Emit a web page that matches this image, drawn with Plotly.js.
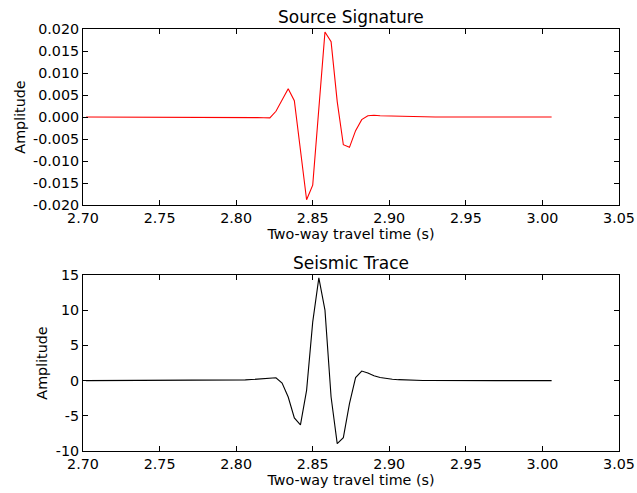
<!DOCTYPE html>
<html>
<head>
<meta charset="utf-8">
<script src="https://cdn.plot.ly/plotly-3.0.1.min.js"></script>
<style>html,body{margin:0;padding:0;background:#fff;}#chart{width:637px;height:493px;}</style>
</head>
<body>
<div id="chart"></div>
<script>
// Two-way travel time samples (s)
var times = [2.702,2.706,2.710,2.714,2.718,2.722,2.726,2.730,2.734,2.738,
             2.742,2.746,2.750,2.754,2.758,2.762,2.766,2.770,2.774,2.778,
             2.782,2.786,2.790,2.794,2.798,2.802,2.806,2.810,2.814,2.818,
             2.822,2.826,2.830,2.834,2.838,2.842,2.846,2.850,2.854,2.858,
             2.862,2.866,2.870,2.874,2.878,2.882,2.886,2.890,2.894,2.898,
             2.902,2.906,2.910,2.914,2.918,2.922,2.926,2.930,2.934,2.938,
             2.942,2.946,2.950,2.954,2.958,2.962,2.966,2.970,2.974,2.978,
             2.982,2.986,2.990,2.994,2.998,3.002,3.006];

// Source signature amplitude
var sourceAmp = [0,0,0,0,0,0,0,0,0,0,
                 0,0,0,0,0,0,0,0,0,0,
                 0,0,0,-0.00003,-0.00005,-0.00008,-0.0001,-0.00012,-0.00015,-0.00018,
                 -0.0002,0.0013,0.0040,0.0064,0.0037,-0.0076,-0.0188,-0.0155,0.0020,0.0193,
                 0.0171,0.0035,-0.0063,-0.0069,-0.0031,-0.0006,0.0003,0.0004,0.0003,0.00025,
                 0.0002,0.00015,0.0001,0.00007,0.00005,0.00003,0,0,0,0,
                 0,0,0,0,0,0,0,0,0,0,
                 0,0,0,0,0,0,0];

// Seismic trace amplitude
var traceAmp = [0,0,0,0,0,0,0,0,0,0,
                0,0,0,0,0,0,0,0,0,0.01,
                0.01,0.01,0.02,0.02,0.03,0.06,0.1,0.15,0.21,0.28,
                0.35,0.4,-0.34,-2.33,-5.3,-6.3,-1.38,8.3,14.6,10.0,
                -2.33,-8.95,-8.1,-3.27,0.43,1.36,1.08,0.7,0.45,0.3,
                0.2,0.13,0.08,0.05,0.03,0.02,0.01,0,0,0,
                0,0,0,0,0,0,0,0,0,0,
                0,0,0,0,0,0,0];

var xTickVals = [2.70,2.75,2.80,2.85,2.90,2.95,3.00,3.05];
var xTickText = ['2.70','2.75','2.80','2.85','2.90','2.95','3.00','3.05'];
var srcTickVals = [-0.020,-0.015,-0.010,-0.005,0.000,0.005,0.010,0.015,0.020];
var srcTickText = ['-0.020','-0.015','-0.010','-0.005','0.000','0.005','0.010','0.015','0.020'];
var trcTickVals = [-10,-5,0,5,10,15];
var trcTickText = ['-10','-5','0','5','10','15'];

var FONT = 'DejaVu Sans, sans-serif';

var traces = [
  {x: times, y: sourceAmp, type: 'scatter', mode: 'lines', line: {color: '#ff0000', width: 1.1}, xaxis: 'x', yaxis: 'y', hoverinfo: 'skip'},
  {x: times, y: traceAmp, type: 'scatter', mode: 'lines', line: {color: '#000000', width: 1.1}, xaxis: 'x2', yaxis: 'y2', hoverinfo: 'skip'}
];

function xax(domainY, anchor) {
  return {
    range: [2.70, 3.05], tickvals: xTickVals, ticktext: xTickText,
    ticks: 'inside', ticklen: 5, tickwidth: 1, tickcolor: '#000',
    showline: true, linecolor: '#000', linewidth: 1, mirror: 'ticks',
    showgrid: false, zeroline: false, anchor: anchor,
    tickfont: {family: FONT, size: 14.3, color: '#000'},
    title: {text: 'Two-way travel time (s)', font: {family: FONT, size: 14.3, color: '#000'}, standoff: 2},
    fixedrange: true
  };
}
function yax(domain, range, vals, text, anchor) {
  return {
    domain: domain, range: range, tickvals: vals, ticktext: text,
    ticks: 'inside', ticklen: 5, tickwidth: 1, tickcolor: '#000',
    showline: true, linecolor: '#000', linewidth: 1, mirror: 'ticks',
    showgrid: false, zeroline: false, anchor: anchor,
    tickfont: {family: FONT, size: 14.3, color: '#000'},
    title: {text: 'Amplitude', font: {family: FONT, size: 14.3, color: '#000'}, standoff: 4},
    fixedrange: true
  };
}

var topDom = [0.5829, 1];
var botDom = [0, 0.4171];

var layout = {
  width: 637, height: 493,
  margin: {l: 83, r: 18, t: 29, b: 42},
  paper_bgcolor: '#fff', plot_bgcolor: '#fff',
  showlegend: false,
  font: {family: FONT, color: '#000'},
  xaxis: xax(topDom, 'y'),
  yaxis: yax(topDom, [-0.02, 0.02], srcTickVals, srcTickText, 'x'),
  xaxis2: xax(botDom, 'y2'),
  yaxis2: yax(botDom, [-10, 15], trcTickVals, trcTickText, 'x2'),
  annotations: [
    {text: 'Source Signature', xref: 'paper', yref: 'paper', x: 0.5, y: topDom[1], xanchor: 'center', yanchor: 'bottom', yshift: 0, showarrow: false, font: {family: FONT, size: 17, color: '#000'}},
    {text: 'Seismic Trace', xref: 'paper', yref: 'paper', x: 0.5, y: botDom[1], xanchor: 'center', yanchor: 'bottom', yshift: 0, showarrow: false, font: {family: FONT, size: 17, color: '#000'}}
  ]
};

Plotly.newPlot('chart', traces, layout, {staticPlot: true, displayModeBar: false});
</script>
</body>
</html>
